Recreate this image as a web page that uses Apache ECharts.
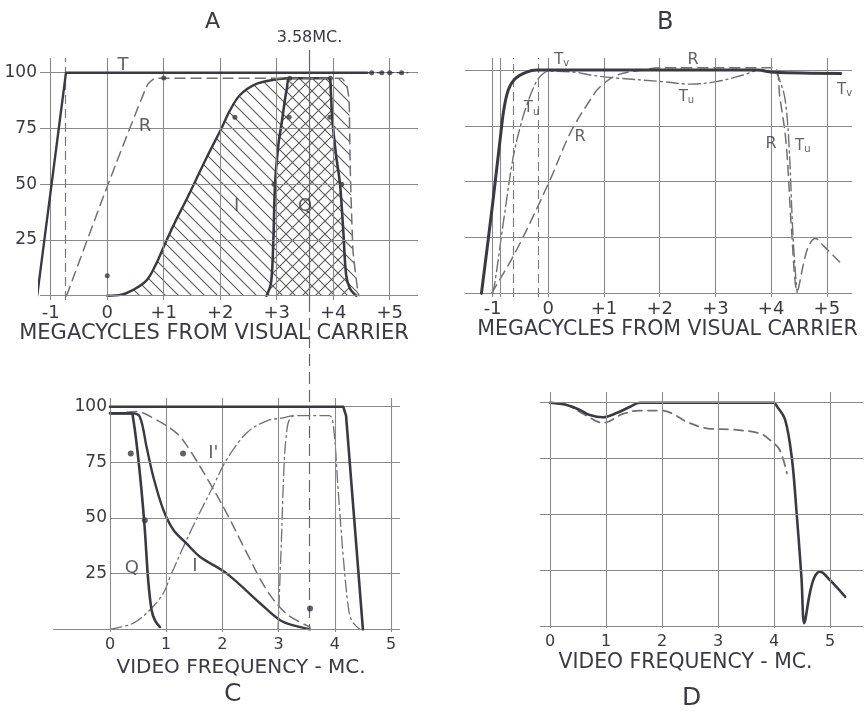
<!DOCTYPE html>
<html><head><meta charset="utf-8">
<script src="https://cdn.jsdelivr.net/npm/echarts@6/dist/echarts.min.js"></script>
<style>html,body{margin:0;padding:0;background:#ffffff;}#c{width:864px;height:712px;}</style>
</head><body><div id="c"></div>
<script>
// ---------------- DATA ----------------
// Panel A : megacycles from visual carrier
const aTicksX = [-1, 0, 1, 2, 3, 4, 5];
const aTicksY = [25, 50, 75, 100];
const aGridY = [0, 25, 50, 75, 100];
const aT = [[-1.24, 0], [-0.73, 100], [4.6, 100]];
const aTEnd = [[4.6, 100], [4.68, 100], [4.86, 100], [5.0, 100], [5.21, 100], [5.32, 100]];
const aR = [[-0.72, 0], [0, 49], [0.7, 94], [0.85, 97.5], [4.15, 97.5], [4.24, 94], [4.28, 88], [4.3, 58], [4.35, 20], [4.44, 1], [4.46, 0]];
const aI = [[0, 0], [0.25, 0.5], [0.46, 2.6], [0.7, 7], [0.87, 14.5], [1.0, 22], [1.2, 33], [1.4, 43], [1.76, 62], [2.02, 75], [2.17, 83], [2.35, 90], [2.64, 95], [3.0, 97], [3.2, 97.5]];
const aIArea = aI.concat([[4.15, 97.5], [4.24, 94], [4.28, 88], [4.3, 58], [4.35, 20], [4.44, 1], [4.46, 0]]);
const aQ = [[2.82, 0], [2.9, 6], [2.94, 25], [2.97, 50], [3.03, 68], [3.09, 78], [3.14, 87], [3.18, 93], [3.23, 97.5], [3.93, 97.5], [3.96, 90], [3.98, 80], [4.05, 63], [4.12, 50], [4.18, 28], [4.23, 9], [4.3, 3], [4.41, 0]];
const aDots = [[0, 9], [1.0, 97.6], [2.26, 80], [3.22, 80], [3.94, 80], [2.95, 50], [4.15, 50], [3.23, 97.5], [3.95, 97.5]];
const aLabels = [[0.28, 103.5, 'T'], [0.67, 75.8, 'R'], [2.29, 40, 'I'], [3.5, 40, 'Q']];
const subcarrier = 3.58;

// Panel B
const bTicksX = [-1, 0, 1, 2, 3, 4, 5];
const bGridY = [0, 25, 50, 75, 100];
const bExtraSolid = [-0.87];
const bExtraDashed = [-0.63, -0.18];
const bTv = [[-1.2, 0], [-1.0, 40], [-0.86, 70], [-0.8, 82], [-0.72, 91], [-0.6, 96], [-0.4, 99], [-0.2, 100], [3.75, 100], [4.05, 99], [5.25, 98.5]];
const bTu = [[-1.0, 0], [-0.96, 4.5], [-0.8, 33], [-0.63, 61], [-0.5, 75], [-0.39, 84], [-0.25, 93], [-0.15, 97], [0, 99.5], [0.5, 99], [0.75, 97.8], [1.2, 96.5], [2.06, 94.8], [2.54, 93.7], [3.02, 94.8], [3.5, 97.8], [3.8, 100], [4.08, 99], [4.16, 95], [4.25, 87], [4.32, 67], [4.39, 27], [4.44, 8], [4.47, 0]];
const bR = [[-1.02, 0], [-0.57, 19.4], [0.03, 50.7], [0.39, 71.6], [0.75, 86.6], [0.93, 92.5], [1.23, 97.7], [1.7, 100], [2.0, 101], [4.05, 101], [4.16, 87], [4.27, 67], [4.37, 27], [4.47, 1], [4.58, 13], [4.67, 21], [4.79, 24.6], [4.95, 21], [5.23, 14]];
const bLabels = [[0.24, 104.5, 'Tv'], [-0.3, 82.8, 'Tu'], [0.57, 70, 'R'], [2.6, 104.5, 'R'], [2.48, 88, 'Tu'], [5.32, 91, 'Tv'], [4.0, 67, 'R'], [4.57, 66, 'Tu']];

// Panel C : video frequency
const cTicksX = [0, 1, 2, 3, 4, 5];
const cTicksY = [25, 50, 75, 100];
const cGridY = [25, 50, 75, 100];
const cY = [[0, 100], [4.15, 100], [4.2, 96], [4.25, 80], [4.5, 0]];
const cQ = [[0, 97], [0.38, 97], [0.41, 95], [0.48, 82], [0.56, 62.6], [0.62, 44.6], [0.68, 22], [0.74, 8.7], [0.8, 4], [0.89, 1]];
const cI = [[0, 97], [0.4, 97], [0.53, 95.5], [0.65, 82], [0.77, 68.6], [0.95, 53.6], [1.13, 44.6], [1.36, 38.6], [1.6, 32.6], [2.08, 25], [2.67, 11.7], [3.02, 4.2], [3.3, 1.5], [3.56, 0]];
const cIp = [[0.3, 97.5], [0.47, 97.8], [0.83, 94], [1.19, 88], [1.42, 80.5], [1.78, 65.5], [2.08, 52], [2.44, 34], [2.79, 17.6], [3.14, 7], [3.56, 1]];
const cRise = [[0, 0], [0.41, 2.7], [0.71, 8.7], [0.95, 16.2], [1.07, 23.6], [1.36, 40], [1.55, 50], [1.84, 64.5], [2.08, 76.4], [2.44, 88.4], [2.79, 93.6], [3.08, 95], [3.26, 96]];
const cBand = [[2.99, 0], [3.05, 40], [3.1, 75], [3.15, 90], [3.2, 94.5], [3.3, 96], [3.9, 96], [3.97, 92.5], [4.06, 62.6], [4.15, 32.6], [4.24, 10], [4.3, 4], [4.39, 1.2], [4.45, 0]];
const cDots = [[0.37, 79], [0.62, 49], [1.3, 79], [3.56, 9.4]];
const cLabels = [[1.84, 104, 'Y'], [1.84, 79, "I'"], [0.39, 27.5, 'Q'], [1.51, 28.5, 'I']];

// Panel D
const dTicksX = [0, 1, 2, 3, 4, 5];
const dGridY = [0, 25, 50, 75, 100];
const dSolid = [[0, 100], [0.3, 99], [0.54, 96.7], [0.71, 94.5], [0.95, 93.5], [1.2, 95.5], [1.43, 98.2], [1.6, 100], [4.0, 100], [4.05, 98.5], [4.2, 92.3], [4.32, 75], [4.4, 52], [4.49, 22], [4.54, 1.6], [4.64, 15], [4.72, 22], [4.82, 24.6], [5.0, 20.8], [5.27, 13.4]];
const dDashed = [[0, 100], [0.3, 99], [0.6, 95], [0.95, 91], [1.3, 95], [1.6, 96.5], [2.0, 96.5], [2.2, 95], [2.44, 91.5], [2.8, 88.6], [3.27, 88], [3.75, 86.3], [3.93, 83.3], [4.1, 79], [4.23, 68.5]];

// ---------------- STYLE ----------------
const FONT = 'DejaVu Sans';
const INK = '#3a3a42';
const GRIDC = '#8a8a8a';
const DASHC = '#707070';

function hatch(dir) {
  const s = 13, c = document.createElement('canvas');
  c.width = s; c.height = s;
  const g = c.getContext('2d');
  g.strokeStyle = '#5a5a5a'; g.lineWidth = 1.1;
  g.beginPath();
  if (dir === 'back') {
    g.moveTo(-1, -1); g.lineTo(s + 1, s + 1);
    g.moveTo(s - 2, -2); g.lineTo(s + 2, 2);
    g.moveTo(-2, s - 2); g.lineTo(2, s + 2);
  } else {
    g.moveTo(-1, s + 1); g.lineTo(s + 1, -1);
    g.moveTo(-2, 2); g.lineTo(2, -2);
    g.moveTo(s - 2, s + 2); g.lineTo(s + 2, s - 2);
  }
  g.stroke();
  return c;
}

const P = { // panel geometry
  A: { left: 40, top: 58, width: 378, height: 242, xmin: -1.19, xmax: 5.5, ymin: -1.93, ymax: 106.6 },
  B: { left: 465, top: 58, width: 387, height: 239, xmin: -1.4955, xmax: 5.452, ymin: -1.66, ymax: 105.4 },
  C: { left: 53, top: 398, width: 347, height: 234, xmin: -1.014, xmax: 5.16, ymin: -1.21, ymax: 103.9 },
  D: { left: 540, top: 392, width: 323, height: 236, xmin: -0.1786, xmax: 5.589, ymin: -0.58, ymax: 104.8 },
  O: { left: 40, top: 50, width: 378, height: 580, xmin: -1.19, xmax: 5.5, ymin: 0, ymax: 1 }
};
const order = ['A', 'B', 'C', 'D', 'O'];
const grids = order.map(k => ({ left: P[k].left, top: P[k].top, width: P[k].width, height: P[k].height, containLabel: false, outerBoundsMode: 'none' }));

const plusFmt = v => (v > 0 ? '+' + v : (v < 0 ? '-' + Math.abs(v) : '' + v));

function xAx(i, k, ticks, fmt, fs, margin, name, nameGap, nfs, pad) {
  return {
    type: 'value', gridIndex: i, min: P[k].xmin, max: P[k].xmax, show: true,
    axisLine: { show: false, onZero: false }, axisTick: { show: false }, splitLine: { show: false },
    axisLabel: ticks ? { show: true, customValues: ticks, formatter: fmt, color: INK, fontSize: fs, fontFamily: FONT, margin: margin, showMinLabel: true, showMaxLabel: true } : { show: false },
    name: name || '', nameLocation: 'middle', nameGap: nameGap || 0,
    nameTextStyle: { color: INK, fontSize: nfs || 12, fontFamily: FONT, padding: pad || 0 }
  };
}
function yAx(i, k, ticks, offset) {
  return {
    type: 'value', gridIndex: i, min: P[k].ymin, max: P[k].ymax, offset: offset || 0,
    axisLine: { show: false, onZero: false }, axisTick: { show: false }, splitLine: { show: false },
    axisLabel: ticks ? { show: true, customValues: ticks, color: INK, fontSize: 17, fontFamily: FONT, margin: 3 } : { show: false }
  };
}

function gridSeries(i, items) {
  return {
    type: 'line', xAxisIndex: i, yAxisIndex: i, data: [], symbol: 'none', silent: true, z: 1,
    markLine: { symbol: 'none', silent: true, animation: false, label: { show: false },
      lineStyle: { color: GRIDC, width: 1.1, type: 'solid' }, data: items }
  };
}
function line(i, data, color, width, type, z, smooth, area) {
  const s = {
    type: 'line', xAxisIndex: i, yAxisIndex: i, data: data, symbol: 'none', silent: true,
    smooth: smooth === undefined ? 0.3 : smooth,
    lineStyle: { color: color, width: width, type: type || 'solid', join: 'round', cap: 'round' }, z: z || 3
  };
  if (area) s.areaStyle = area;
  return s;
}
function dots(i, data, size) {
  return { type: 'scatter', xAxisIndex: i, yAxisIndex: i, data: data, symbolSize: size || 5, itemStyle: { color: INK }, silent: true, z: 6 };
}
function labels(i, data, fs) {
  return {
    type: 'scatter', xAxisIndex: i, yAxisIndex: i, symbolSize: 0, silent: true, z: 7,
    data: data.map(d => ({ value: [d[0], d[1]], name: d[2] })),
    label: {
      show: true, position: 'inside', color: INK, fontFamily: FONT, fontSize: fs,
      formatter: p => (p.name.length === 2 && p.name[0] === 'T') ? '{t|T}{s|' + p.name[1] + '}' : p.name,
      rich: { t: { fontSize: 15, fontFamily: FONT, color: INK }, s: { fontSize: 10, fontFamily: FONT, color: INK, padding: [7, 0, 0, 0] } }
    }
  };
}

const series = [];
// Panel A grid
series.push(gridSeries(0,
  aTicksX.map(v => ({ xAxis: v }))
    .concat(aGridY.map(v => ({ yAxis: v })))
    .concat([{ xAxis: -0.75, lineStyle: { type: [9, 5], color: '#7a7a7a', width: 1.2 } }])
));
series.push(line(0, aIArea, 'transparent', 0, 'solid', 2, 0.35, { color: { image: hatch('back'), repeat: 'repeat' }, opacity: 1 }));
series.push(line(0, aQ, INK, 2.6, 'solid', 4, 0.35, { color: { image: hatch('fwd'), repeat: 'repeat' }, opacity: 1 }));
series.push(line(0, aI, INK, 2.4, 'solid', 4, 0.35));
series.push(line(0, aR, DASHC, 1.5, [10, 6], 4, 0.15));
series.push(line(0, aT, INK, 2.4, 'solid', 5, false));
series.push(line(0, aTEnd, INK, 1.2, [6, 4], 5, false));
series.push(dots(0, aDots, 5));
series.push(dots(0, aTEnd.slice(1, 5), 5));
series.push(labels(0, aLabels, 18));

// Panel B
series.push(gridSeries(1,
  bTicksX.map(v => ({ xAxis: v }))
    .concat(bGridY.map(v => ({ yAxis: v })))
    .concat(bExtraSolid.map(v => ({ xAxis: v })))
    .concat(bExtraDashed.map(v => ({ xAxis: v, lineStyle: { type: [9, 5], color: '#7a7a7a', width: 1.1 } })))
));
series.push(line(1, bR, DASHC, 1.5, [10, 6], 3, 0.35));
series.push(line(1, bTu, DASHC, 1.4, [12, 4, 2, 4], 3, 0.35));
series.push(line(1, bTv, INK, 3, 'solid', 5, 0.35));
series.push(labels(1, bLabels, 16));

// Panel C
series.push(gridSeries(2,
  cTicksX.map(v => ({ xAxis: v }))
    .concat(cGridY.map(v => [{ coord: [0, v] }, { coord: [P.C.xmax, v] }]))
    .concat([[{ coord: [P.C.xmin, 0] }, { coord: [P.C.xmax, 0] }]])
));
series.push(line(2, cRise, DASHC, 1.3, [12, 4, 2, 4], 3, 0.35));
series.push(line(2, cBand, DASHC, 1.3, [12, 4, 2, 4], 3, 0.35));
series.push(line(2, cIp, DASHC, 1.5, [10, 6], 3, 0.35));
series.push(line(2, cI, INK, 2.4, 'solid', 4, 0.35));
series.push(line(2, cQ, INK, 2.6, 'solid', 4, 0.35));
series.push(line(2, cY, INK, 2.6, 'solid', 5, false));
series.push(dots(2, cDots, 6));
series.push(labels(2, cLabels, 18));

// Panel D
series.push(gridSeries(3,
  dTicksX.map(v => ({ xAxis: v })).concat(dGridY.map(v => ({ yAxis: v })))
));
series.push(line(3, dDashed, DASHC, 1.8, [9, 6], 3, 0.35));
series.push(line(3, dSolid, INK, 2.6, 'solid', 4, 0.35));

// Overlay : 3.58 MC subcarrier marker across A and C
series.push({
  type: 'line', xAxisIndex: 4, yAxisIndex: 4, symbol: 'none', silent: true, z: 5,
  data: [[subcarrier, 1], [subcarrier, 0.569]], lineStyle: { color: '#666', width: 1.2 },
  markPoint: { symbol: 'circle', symbolSize: 0, silent: true,
    data: [{ coord: [subcarrier, 1], label: { show: true, position: 'top', distance: 4, formatter: '3.58MC.', color: INK, fontSize: 16, fontFamily: FONT } }] }
});
series.push({
  type: 'line', xAxisIndex: 4, yAxisIndex: 4, symbol: 'none', silent: true, z: 5,
  data: [[subcarrier, 0.569], [subcarrier, 0]], lineStyle: { color: '#666', width: 1.2, type: [12, 6] }
});

const option = {
  animation: false,
  backgroundColor: '#ffffff',
  title: [
    { text: 'A', left: 200, top: 6, textStyle: { fontSize: 22, fontWeight: 'normal', color: INK, fontFamily: FONT } },
    { text: 'B', left: 652, top: 6, textStyle: { fontSize: 24, fontWeight: 'normal', color: INK, fontFamily: FONT } },
    { text: 'C', left: 219, top: 677, textStyle: { fontSize: 25, fontWeight: 'normal', color: INK, fontFamily: FONT } },
    { text: 'D', left: 677, top: 681, textStyle: { fontSize: 25, fontWeight: 'normal', color: INK, fontFamily: FONT } }
  ],
  grid: grids,
  xAxis: [
    xAx(0, 'A', aTicksX, plusFmt, 18, 4, 'MEGACYCLES FROM VISUAL CARRIER', 22, 21, [0, 30, 0, 0]),
    xAx(1, 'B', bTicksX, plusFmt, 18, 3, 'MEGACYCLES FROM VISUAL CARRIER', 20, 20.5, [0, 0, 0, 18]),
    xAx(2, 'C', cTicksX, v => '' + v, 16, 5, 'VIDEO FREQUENCY - MC.', 26, 20, [0, 0, 0, 29]),
    xAx(3, 'D', dTicksX, v => '' + v, 16, 6, 'VIDEO FREQUENCY - MC.', 25, 20.4, [0, 32, 0, 0]),
    { type: 'value', gridIndex: 4, min: P.O.xmin, max: P.O.xmax, show: false }
  ],
  yAxis: [
    yAx(0, 'A', aTicksY, 0),
    yAx(1, 'B', null, 0),
    yAx(2, 'C', cTicksY, -57),
    yAx(3, 'D', null, 0),
    { type: 'value', gridIndex: 4, min: 0, max: 1, show: false }
  ],
  series: series
};

const chart = echarts.init(document.getElementById('c'), null, { renderer: 'canvas' });
chart.setOption(option);
</script></body></html>
